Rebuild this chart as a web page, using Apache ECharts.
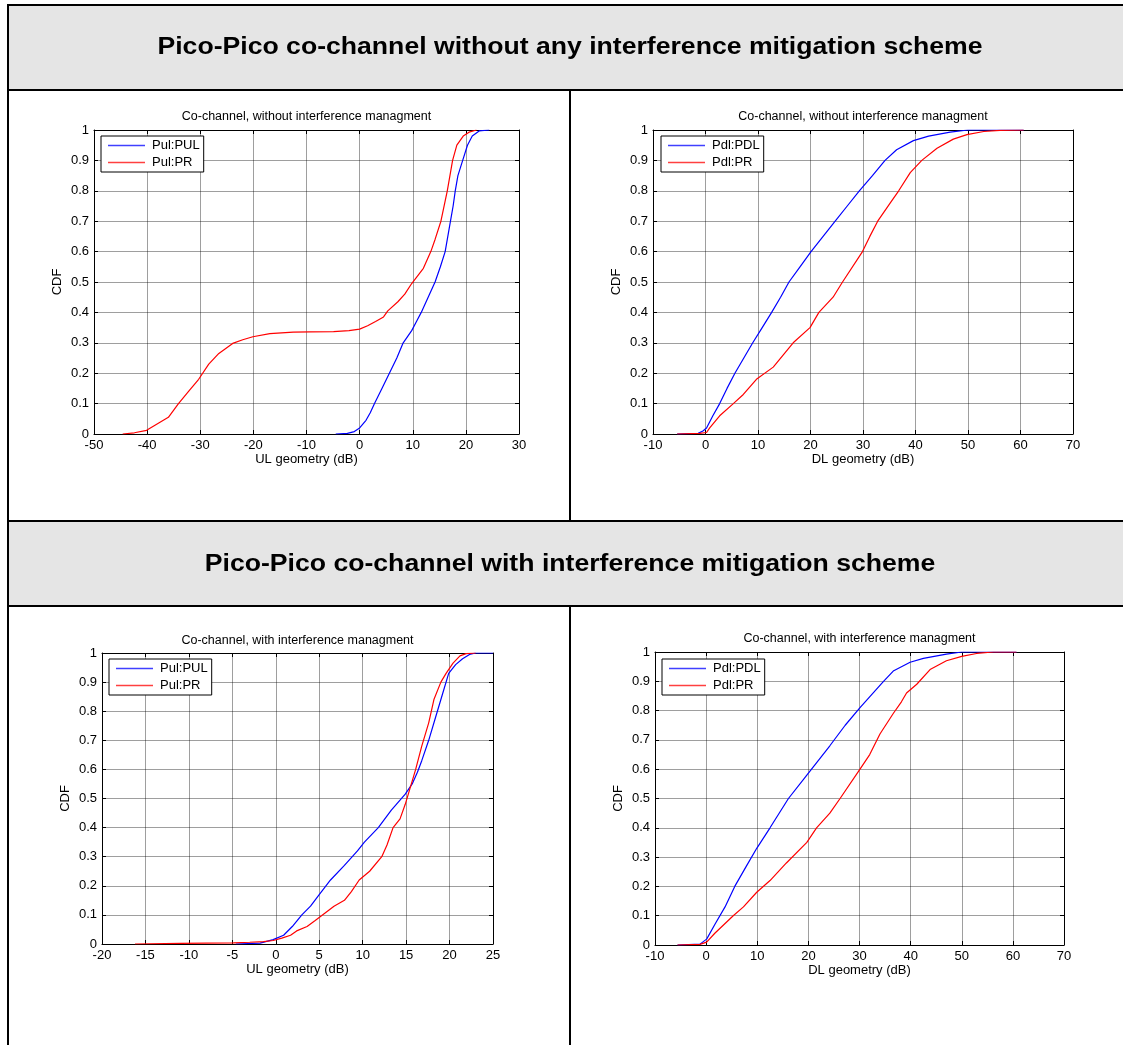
<!DOCTYPE html>
<html>
<head>
<meta charset="utf-8">
<title>Pico-Pico co-channel geometry CDFs</title>
<script src="https://cdn.jsdelivr.net/npm/echarts@6/dist/echarts.min.js"></script>
<style>
  html, body { margin: 0; padding: 0; background: #fff; }
  #chart { width: 1123px; height: 1045px; }
</style>
</head>
<body>
<div id="chart"></div>
<script>
// ---- Text ----
const headerTexts = [
  'Pico-Pico co-channel without any interference mitigation scheme',
  'Pico-Pico co-channel with interference mitigation scheme'
];
const chartTitles = [
  'Co-channel, without interference managment',
  'Co-channel, without interference managment',
  'Co-channel, with interference managment',
  'Co-channel, with interference managment'
];
const xAxisNames = ['UL geometry (dB)', 'DL geometry (dB)', 'UL geometry (dB)', 'DL geometry (dB)'];
const yAxisName = 'CDF';
const legendNames = [
  ['Pul:PUL', 'Pul:PR'],
  ['Pdl:PDL', 'Pdl:PR'],
  ['Pul:PUL', 'Pul:PR'],
  ['Pdl:PDL', 'Pdl:PR']
];

// ---- Axis ranges (min, max, tick step) ----
const xRanges = [
  [-50, 30, 10],
  [-10, 70, 10],
  [-20, 25, 5],
  [-10, 70, 10]
];
const yRange = [0, 1, 0.1];

// ---- CDF curves: [geometry dB, cumulative probability] ----
const ulNoMitPUL = [[-4.5,0],[-2.3,0.002],[-1,0.008],[0,0.02],[1.2,0.045],[2,0.07],[2.8,0.1],[4.2,0.15],[5.6,0.2],[7,0.25],[8.2,0.3],[9.8,0.34],[10.7,0.37],[11.6,0.4],[12.9,0.45],[14.2,0.5],[15.2,0.55],[16.1,0.6],[16.6,0.65],[17.1,0.7],[17.6,0.75],[18,0.8],[18.5,0.85],[19.4,0.9],[20.3,0.95],[21.2,0.98],[22.5,0.997],[24.4,1]];
const ulNoMitPR = [[-44.6,0],[-42.4,0.004],[-40.1,0.012],[-38.6,0.028],[-36,0.055],[-34.1,0.1],[-32.2,0.14],[-30.3,0.18],[-28.4,0.23],[-26.5,0.265],[-23.9,0.298],[-22,0.31],[-20.1,0.32],[-16.9,0.33],[-12.5,0.335],[-9.3,0.336],[-4.9,0.337],[-2,0.34],[0,0.345],[1.5,0.356],[3,0.37],[4.5,0.385],[5.3,0.405],[7.2,0.435],[8.5,0.46],[9.8,0.495],[12,0.545],[13.4,0.6],[14.2,0.64],[15.3,0.7],[16.5,0.8],[17.5,0.9],[18.3,0.95],[19.5,0.98],[20.6,0.993],[22,1]];
const dlNoMitPDL = [[-5.4,0],[-1.4,0.002],[-0.5,0.01],[0.2,0.02],[1.4,0.06],[2.7,0.1],[4.1,0.15],[5.6,0.2],[7.3,0.25],[9,0.3],[10.8,0.35],[12.6,0.4],[14.3,0.45],[15.9,0.5],[18,0.55],[20.1,0.6],[22.4,0.65],[24.7,0.7],[27,0.75],[29.3,0.8],[31.8,0.85],[34.2,0.9],[36.4,0.935],[39.6,0.965],[42.5,0.98],[46.6,0.993],[50,1],[60.6,1]];
const dlNoMitPR = [[-5.4,0],[-1.1,0.002],[0.2,0.005],[0.8,0.02],[2.7,0.06],[5.3,0.1],[7.2,0.13],[9.7,0.18],[12.9,0.22],[16.7,0.3],[19.9,0.35],[21.6,0.4],[24.3,0.45],[26.1,0.5],[29.9,0.6],[31.3,0.65],[32.8,0.7],[35.2,0.76],[36.8,0.8],[39,0.86],[41.2,0.9],[44.1,0.94],[47.2,0.97],[49.8,0.985],[53,0.995],[56.1,0.999],[60.6,1]];
const ulMitPUL = [[-4.6,0],[-1.8,0.003],[-0.3,0.015],[0.9,0.03],[1.9,0.06],[3,0.1],[4,0.13],[5,0.17],[6.3,0.22],[7.9,0.27],[9.4,0.32],[10.2,0.35],[11.8,0.4],[13.3,0.46],[14.9,0.515],[15.7,0.55],[16.3,0.59],[16.8,0.63],[17.6,0.7],[18.4,0.78],[19.2,0.86],[19.9,0.93],[20.7,0.96],[21.5,0.98],[22.3,0.995],[23,1],[25,1]];
const ulMitPR = [[-16.2,0],[-11,0.002],[-10.8,0.004],[-4.9,0.004],[-3,0.006],[-1.4,0.008],[-0.3,0.012],[0.7,0.02],[1.7,0.03],[2.4,0.045],[3.6,0.06],[4.5,0.08],[5.6,0.105],[6.7,0.13],[7.9,0.15],[8.7,0.18],[9.6,0.22],[10.8,0.25],[12.2,0.3],[12.8,0.34],[13.5,0.4],[14.3,0.43],[14.9,0.48],[15.5,0.54],[16.1,0.6],[16.8,0.68],[17.6,0.76],[18.2,0.84],[19,0.9],[19.6,0.93],[20.4,0.965],[21.2,0.99],[21.9,0.998],[23,1]];
const dlMitPDL = [[-5.6,0],[-1.2,0.003],[0.1,0.02],[1.7,0.07],[3.7,0.13],[5.6,0.2],[7.9,0.27],[9.9,0.33],[12.5,0.4],[16.1,0.5],[19.7,0.58],[24.2,0.68],[27.2,0.75],[30.1,0.81],[34.7,0.9],[36.6,0.935],[39.9,0.965],[42.5,0.978],[47,0.993],[50,1],[60.7,1]];
const dlMitPR = [[-5.6,0],[-1.2,0.002],[0.1,0.01],[1.7,0.04],[5.3,0.1],[7.3,0.13],[9.9,0.18],[12.5,0.22],[15.7,0.28],[19.7,0.35],[21.6,0.4],[24.2,0.45],[26.2,0.5],[30.1,0.6],[32,0.65],[34,0.72],[36.6,0.79],[38.2,0.83],[39.2,0.86],[41.2,0.89],[43.8,0.94],[47,0.97],[50,0.985],[52.9,0.995],[56.2,1],[60.7,1]];

const curves = [
  [ulNoMitPUL, ulNoMitPR],
  [dlNoMitPDL, dlNoMitPR],
  [ulMitPUL, ulMitPR],
  [dlMitPDL, dlMitPR]
];

// ---- Layout ----
const FONT = '"Liberation Sans", Arial, Helvetica, sans-serif';
const TEXT_SIZE = 13;
const plots = [
  { left: 94,  top: 130, width: 425, height: 304, titleY: 110 },
  { left: 653, top: 130, width: 420, height: 304, titleY: 110 },
  { left: 102, top: 653, width: 391, height: 291, titleY: 634 },
  { left: 655, top: 652, width: 409, height: 293, titleY: 632 }
];
const legendPos = [[101, 136], [661, 136], [109, 659], [662, 659]];
const lineColors = ['#0000ff', '#ff0000'];

const grid = [], xAxis = [], yAxis = [], series = [], legend = [], title = [];
const boxLine = { show: true, onZero: false, lineStyle: { color: '#000', width: 1 } };
const tickIn = { show: true, inside: true, length: 4, lineStyle: { color: '#000', width: 1 } };
const gridLine = { show: true, lineStyle: { color: 'rgba(0,0,0,0.38)', width: 1, type: 'solid' } };
const labelStyle = { color: '#000', fontSize: TEXT_SIZE, fontFamily: FONT };

plots.forEach((p, i) => {
  grid.push({ left: p.left, top: p.top, width: p.width, height: p.height, containLabel: false });
  const [xmin, xmax, xstep] = xRanges[i];
  const [ymin, ymax, ystep] = yRange;
  // bottom + top x axes (box with inward ticks)
  xAxis.push({
    gridIndex: i, type: 'value', position: 'bottom', min: xmin, max: xmax, interval: xstep,
    axisLine: boxLine, axisTick: tickIn, splitLine: gridLine,
    axisLabel: Object.assign({ margin: 5, showMinLabel: true, showMaxLabel: true }, labelStyle),
    name: xAxisNames[i], nameLocation: 'middle', nameGap: 19, nameTextStyle: labelStyle
  });
  xAxis.push({
    gridIndex: i, type: 'value', position: 'top', min: xmin, max: xmax, interval: xstep,
    axisLine: boxLine, axisTick: tickIn, splitLine: { show: false }, axisLabel: { show: false }
  });
  // left + right y axes
  yAxis.push({
    gridIndex: i, type: 'value', position: 'left', min: ymin, max: ymax, interval: ystep,
    axisLine: boxLine, axisTick: tickIn, splitLine: gridLine,
    axisLabel: Object.assign({ margin: 5, showMinLabel: true, showMaxLabel: true }, labelStyle),
    name: yAxisName, nameLocation: 'middle', nameGap: 30, nameRotate: 90, nameTextStyle: labelStyle
  });
  yAxis.push({
    gridIndex: i, type: 'value', position: 'right', min: ymin, max: ymax, interval: ystep,
    axisLine: boxLine, axisTick: tickIn, splitLine: { show: false }, axisLabel: { show: false }
  });

  curves[i].forEach((data, k) => {
    series.push({
      type: 'line', name: legendNames[i][k], data: data,
      xAxisIndex: 2 * i, yAxisIndex: 2 * i,
      symbol: 'none', showSymbol: false, smooth: false, animation: false,
      lineStyle: { color: lineColors[k], width: 1.2 },
      itemStyle: { color: lineColors[k] },
      z: 3
    });
  });

  // legend keys are plain line segments
  legend.push({
    data: legendNames[i].map((n, k) => ({ name: n, icon: 'rect', itemStyle: { color: lineColors[k], opacity: 0.75 } })),
    orient: 'vertical',
    left: legendPos[i][0], top: legendPos[i][1],
    padding: [3, 4, 3, 7], itemGap: 4, itemWidth: 37, itemHeight: 1.5,
    backgroundColor: '#fff', borderColor: '#000', borderWidth: 1,
    textStyle: { color: '#000', fontSize: TEXT_SIZE, fontFamily: FONT, padding: [0, 0, 0, 2] },
    selectedMode: false, z: 5
  });

  title.push({
    text: chartTitles[i], left: p.left + p.width / 2, top: p.titleY, textAlign: 'center', padding: 0,
    textStyle: { color: '#000', fontSize: 12.5, fontWeight: 'normal', fontFamily: FONT }
  });
});

// ---- Table frame with the two heading rows ----
const TABLE_LEFT = 8, TABLE_RIGHT = 1133, COL_SPLIT = 570;
const rows = { head1: [5, 90], head2: [521, 606], bottom: 1050 };
const frameStroke = { stroke: '#000', lineWidth: 2 };
const graphic = [
  { type: 'rect', shape: { x: TABLE_LEFT, y: rows.head1[0], width: TABLE_RIGHT - TABLE_LEFT, height: rows.head1[1] - rows.head1[0] },
    style: Object.assign({ fill: '#e5e5e5' }, frameStroke), z: 0 },
  { type: 'rect', shape: { x: TABLE_LEFT, y: rows.head2[0], width: TABLE_RIGHT - TABLE_LEFT, height: rows.head2[1] - rows.head2[0] },
    style: Object.assign({ fill: '#e5e5e5' }, frameStroke), z: 0 },
  { type: 'line', shape: { x1: TABLE_LEFT, y1: rows.head1[0], x2: TABLE_LEFT, y2: rows.bottom }, style: frameStroke, z: 0 },
  { type: 'line', shape: { x1: COL_SPLIT, y1: rows.head1[1], x2: COL_SPLIT, y2: rows.head2[0] }, style: frameStroke, z: 0 },
  { type: 'line', shape: { x1: COL_SPLIT, y1: rows.head2[1], x2: COL_SPLIT, y2: rows.bottom }, style: frameStroke, z: 0 },
  { type: 'text', x: COL_SPLIT, y: 48, scaleX: 1.157, z: 1,
    style: { text: headerTexts[0], textAlign: 'center', textVerticalAlign: 'middle', fill: '#000',
             font: 'bold 23px ' + FONT } },
  { type: 'text', x: COL_SPLIT, y: 565, scaleX: 1.157, z: 1,
    style: { text: headerTexts[1], textAlign: 'center', textVerticalAlign: 'middle', fill: '#000',
             font: 'bold 23px ' + FONT } }
];

const chart = echarts.init(document.getElementById('chart'), null, { renderer: 'canvas' });
chart.setOption({
  backgroundColor: '#fff',
  animation: false,
  title, grid, xAxis, yAxis, series, legend, graphic
});
</script>
</body>
</html>
